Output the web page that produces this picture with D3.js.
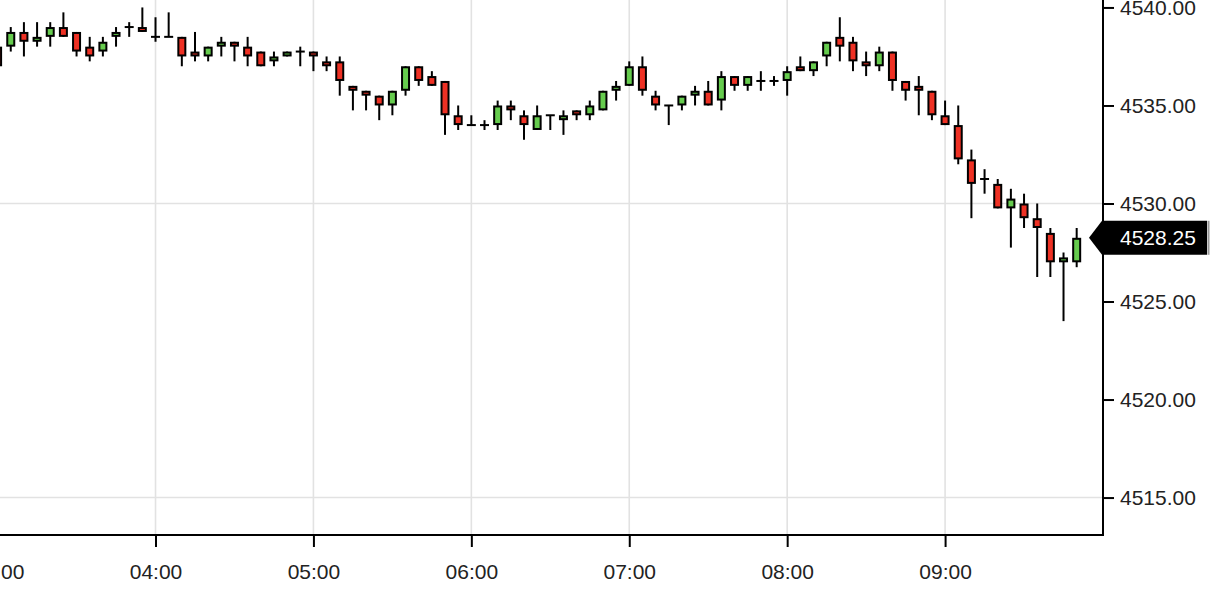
<!DOCTYPE html>
<html>
<head>
<meta charset="utf-8">
<script src="https://cdn.jsdelivr.net/npm/d3@7"></script>
<style>
  html, body { margin: 0; padding: 0; background: #fff; }
  svg { display: block; }
  text { font-family: "Liberation Sans", Arial, sans-serif; }
</style>
</head>
<body>
<svg id="chart" width="1212" height="592"></svg>
<script>
// ---- data (5-minute candles, 03:00 .. 09:50) ----
const startTime = "03:00";
const endTime = "10:00";
const open  = [4538.0,4538.0,4538.75,4538.25,4538.5,4539.0,4538.75,4538.0,4537.75,4538.5,
               4539.0,4539.0,4538.5,4538.5,4538.5,4537.75,4537.5,4538.0,4538.25,4538.0,
               4537.75,4537.25,4537.5,4537.75,4537.75,4537.25,4537.25,4536.0,4535.75,4535.5,
               4535.0,4535.75,4537.0,4536.5,4536.25,4534.5,4534.0,4534.0,4534.0,4535.0,
               4534.5,4533.75,4534.5,4534.25,4534.75,4534.5,4534.75,4535.75,4536.0,4537.0,
               4535.5,4535.0,4535.0,4535.5,4535.75,4535.25,4536.5,4536.0,4536.25,4536.25,
               4536.25,4537.0,4536.75,4537.5,4538.5,4538.25,4537.25,4537.0,4537.75,4536.25,
               4536.0,4535.75,4534.5,4534.0,4532.25,4531.25,4531.0,4529.75,4530.0,4529.25,
               4528.5,4527.0,4527.0];
const high  = [4538.0,4539.0,4539.25,4539.25,4539.25,4539.75,4538.75,4538.5,4538.5,4539.0,
               4539.25,4540.0,4539.5,4539.75,4538.5,4538.75,4538.0,4538.5,4538.25,4538.5,
               4537.75,4537.75,4537.75,4538.0,4537.75,4537.5,4537.5,4536.0,4535.75,4535.5,
               4535.75,4537.0,4537.0,4536.75,4536.25,4535.0,4534.5,4534.25,4535.25,4535.25,
               4534.75,4535.0,4534.5,4534.75,4534.75,4535.25,4535.75,4536.25,4537.25,4537.5,
               4535.75,4535.0,4535.5,4536.0,4536.25,4536.75,4536.5,4536.5,4536.75,4536.5,
               4537.0,4537.5,4537.25,4538.25,4539.5,4538.5,4537.75,4538.0,4537.75,4536.25,
               4536.5,4535.75,4535.25,4535.0,4532.75,4531.75,4531.25,4530.75,4530.5,4530.0,
               4528.75,4527.5,4528.75];
const low   = [4537.0,4537.75,4537.5,4538.0,4538.0,4538.5,4537.5,4537.25,4537.5,4538.0,
               4538.5,4538.75,4538.25,4538.5,4537.0,4537.25,4537.25,4537.5,4537.25,4537.0,
               4537.0,4537.0,4537.5,4537.0,4536.75,4536.75,4535.5,4534.75,4534.75,4534.25,
               4534.5,4535.5,4536.0,4536.0,4533.5,4533.75,4534.0,4533.75,4533.75,4534.25,
               4533.25,4533.75,4533.75,4533.5,4534.25,4534.25,4534.75,4535.25,4536.0,4535.5,
               4534.75,4534.0,4534.75,4535.0,4535.0,4534.75,4535.75,4535.75,4535.75,4536.0,
               4535.5,4536.75,4536.5,4537.0,4537.25,4536.75,4536.5,4536.75,4535.75,4535.25,
               4534.5,4534.25,4534.0,4532.0,4529.25,4530.5,4529.75,4527.75,4528.75,4526.25,
               4526.25,4524.0,4526.75];
const close = [4537.0,4538.75,4538.25,4538.5,4539.0,4538.5,4537.75,4537.5,4538.25,4538.75,
               4539.0,4538.75,4538.5,4538.5,4537.5,4537.5,4538.0,4538.25,4538.0,4537.5,
               4537.0,4537.5,4537.75,4537.75,4537.5,4537.0,4536.25,4535.75,4535.5,4535.0,
               4535.75,4537.0,4536.25,4536.0,4534.5,4534.0,4534.0,4534.0,4535.0,4534.75,
               4534.0,4534.5,4534.5,4534.5,4534.5,4535.0,4535.75,4536.0,4537.0,4535.75,
               4535.0,4535.0,4535.5,4535.75,4535.0,4536.5,4536.0,4536.5,4536.25,4536.25,
               4536.75,4536.75,4537.25,4538.25,4538.0,4537.25,4537.0,4537.75,4536.25,4535.75,
               4535.75,4534.5,4534.0,4532.25,4531.0,4531.25,4529.75,4530.25,4529.25,4528.75,
               4527.0,4527.25,4528.25];
const xTickLabels = ["03:00","04:00","05:00","06:00","07:00","08:00","09:00"];
const yTickValues = [4515, 4520, 4525, 4530, 4535, 4540];
const yGridValues = [4515, 4530];
const lastPrice = 4528.25;

// ---- layout ----
const W = 1212, H = 592;
const plotRight = 1103, plotBottom = 535;
const UP = "#66cc4e", DOWN = "#ee3124";

const parse = d3.timeParse("%H:%M");
const fmt = d3.timeFormat("%H:%M");
const t0 = parse(startTime), t1 = parse(endTime);
const times = d3.timeMinute.every(5).range(t0, t1).slice(0, open.length);
const candles = times.map((t, i) => ({t, o: open[i], h: high[i], l: low[i], c: close[i]}));

const x = d3.scaleTime().domain([t0, t1]).range([-2.4, plotRight]);
const y = d3.scaleLinear().domain([4513.09, 4540.38]).range([plotBottom, 0]);

const svg = d3.select("#chart");
svg.append("defs").append("clipPath").attr("id", "plotclip")
  .append("rect").attr("x", 0).attr("y", 0).attr("width", plotRight).attr("height", plotBottom);

// grid
const grid = svg.append("g").attr("clip-path", "url(#plotclip)");
grid.selectAll("line.vg").data(xTickLabels.map(parse)).join("line")
  .attr("class", "vg")
  .attr("x1", d => x(d)).attr("x2", d => x(d))
  .attr("y1", 0).attr("y2", plotBottom)
  .attr("stroke", "#e2e2e2").attr("stroke-width", 1.6);
grid.selectAll("line.hg").data(yGridValues).join("line")
  .attr("class", "hg")
  .attr("x1", 0).attr("x2", plotRight)
  .attr("y1", d => y(d)).attr("y2", d => y(d))
  .attr("stroke", "#e2e2e2").attr("stroke-width", 1.6);

// candles
const cg = svg.append("g").attr("clip-path", "url(#plotclip)");
const bodyW = 7;
const g = cg.selectAll("g.c").data(candles).join("g").attr("class", "c");
g.append("line")
  .attr("x1", d => x(d.t)).attr("x2", d => x(d.t))
  .attr("y1", d => y(d.h)).attr("y2", d => y(d.l))
  .attr("stroke", "#000").attr("stroke-width", 2);
g.filter(d => d.o !== d.c).append("rect")
  .attr("x", d => x(d.t) - bodyW / 2)
  .attr("width", bodyW)
  .attr("y", d => y(Math.max(d.o, d.c)) + 1)
  .attr("height", d => Math.max(0.5, y(Math.min(d.o, d.c)) - y(Math.max(d.o, d.c)) - 2))
  .attr("fill", d => d.c > d.o ? UP : DOWN)
  .attr("stroke", "#000").attr("stroke-width", 2);
g.filter(d => d.o === d.c).append("line")
  .attr("x1", d => x(d.t) - bodyW / 2 - 1).attr("x2", d => x(d.t) + bodyW / 2 + 1)
  .attr("y1", d => y(d.o)).attr("y2", d => y(d.o))
  .attr("stroke", "#000").attr("stroke-width", 2);

// x axis
const xAxis = d3.axisBottom(x)
  .tickValues(xTickLabels.map(parse))
  .tickFormat(fmt)
  .tickSize(12).tickPadding(17);
const xg = svg.append("g").attr("transform", `translate(0,${plotBottom})`).call(xAxis);
xg.select(".domain").remove();
xg.selectAll(".tick line").attr("stroke", "#000").attr("stroke-width", 2);
xg.selectAll(".tick text").attr("font-size", 21).attr("fill", "#222")
  .attr("font-family", "Liberation Sans, Arial, sans-serif");

// y axis
const yAxis = d3.axisRight(y)
  .tickValues(yTickValues)
  .tickFormat(d3.format(".2f"))
  .tickSize(11).tickPadding(6);
const yg = svg.append("g").attr("transform", `translate(${plotRight},0)`).call(yAxis);
yg.select(".domain").remove();
yg.selectAll(".tick line").attr("stroke", "#000").attr("stroke-width", 2);
yg.selectAll(".tick text").attr("font-size", 21).attr("fill", "#222")
  .attr("font-family", "Liberation Sans, Arial, sans-serif");

// axis frame lines
svg.append("line").attr("x1", 0).attr("x2", plotRight + 1).attr("y1", plotBottom).attr("y2", plotBottom)
  .attr("stroke", "#000").attr("stroke-width", 2);
svg.append("line").attr("x1", plotRight).attr("x2", plotRight).attr("y1", 0).attr("y2", plotBottom)
  .attr("stroke", "#000").attr("stroke-width", 2);

// last price marker
const py = y(lastPrice);
const hh = 17;
svg.append("path")
  .attr("d", `M${plotRight - 14},${py} L${plotRight - 1},${py - hh} L1207,${py - hh} L1207,${py + hh} L${plotRight - 1},${py + hh} Z`)
  .attr("fill", "#000");
svg.append("line").attr("x1", 1208.5).attr("x2", 1208.5).attr("y1", py - hh).attr("y2", py + hh)
  .attr("stroke", "#999").attr("stroke-width", 2);
svg.append("text")
  .attr("x", plotRight + 17).attr("y", py)
  .attr("dy", "0.36em")
  .attr("font-size", 21).attr("fill", "#fff")
  .text(d3.format(".2f")(lastPrice));
</script>
</body>
</html>
